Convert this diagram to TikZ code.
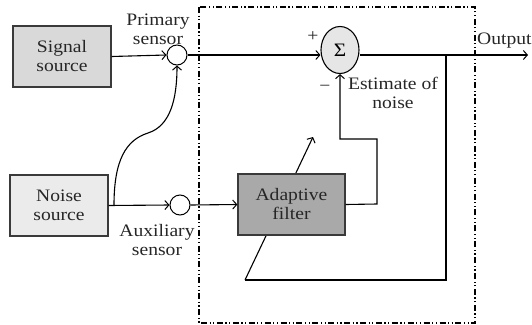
\documentclass[tikz,border=0pt]{standalone}
\usepackage{fontspec}
\setmainfont{Liberation Serif}[FakeStretch=1.12]
\usetikzlibrary{arrows.meta,shapes.geometric}
\definecolor{sigfill}{HTML}{D9D9D9}
\definecolor{noisefill}{HTML}{EBEBEB}
\definecolor{filtfill}{HTML}{A9A9A9}
\definecolor{sumfill}{HTML}{E6E6E6}
\definecolor{boxedge}{HTML}{3A3A3A}
\newcommand{\lbl}{\rmfamily\fontsize{17.5}{19}\selectfont}
\tikzset{
  txt/.style={font=\lbl, align=center, inner sep=0pt, text=black!85},
  blockbox/.style={draw=boxedge, line width=1.3pt, minimum width=98pt, minimum height=61pt, txt},
  sensor/.style={draw, circle, line width=1pt, minimum size=20pt, inner sep=0pt, fill=white},
  conn/.style={line width=1.1pt},
  arr/.style={conn, -{Straight Barb[length=4pt,width=9pt,line width=1pt]}},
  frame/.style={line width=1.2pt, dash pattern=on 6pt off 2.5pt on 1.2pt off 2.5pt on 1.2pt off 2.5pt}
}
\begin{document}
\begin{tikzpicture}[x=1pt,y=-1pt]
\useasboundingbox (0,0) rectangle (532,324);
% frame
\draw[frame] (199,7) rectangle (475,323);
% coordinates
\coordinate (split) at (114,205);
\coordinate (fbtop) at (446,55);
\coordinate (fbcorner) at (245,280);
\coordinate (adapt) at (313,137);
\coordinate (outend) at (528,55);
\coordinate (fo1) at (377,204);
\coordinate (fo2) at (377,139);
% adaptive arrow (behind filter)
\draw[conn] (fbtop) |- (fbcorner);
\draw[arr] (fbcorner) -- (adapt);
% nodes
\node[blockbox, fill=sigfill] (sig) at (62,56.5) {Signal\\source};
\node[blockbox, fill=noisefill] (noise) at (59,205.5) {Noise\\source};
\node[blockbox, fill=filtfill, minimum width=107pt] (filt) at (291.5,204.5) {Adaptive\\filter};
\node[sensor] (psens) at (177,55) {};
\node[sensor] (asens) at (180,205) {};
\node[draw, ellipse, line width=1.1pt, fill=sumfill, minimum width=38pt, minimum height=47pt, inner sep=0pt, font=\rmfamily\fontsize{19}{19}\selectfont] (sum) at (340,50) {Σ};
% labels
\node[txt] (lprim) at (158,29) {Primary\\sensor};
\node[txt] (laux) at (157,240) {Auxiliary\\sensor};
\node[txt] (lplus) at (313,37) {+};
\node[txt] (lminus) at (325,88) {−};
\node[txt] (lest) at (393,93) {Estimate of\\noise};
\node[txt, anchor=west] (lout) at (477,41) {Output};
% connectors
\draw[arr] (sig.east) -- (psens.west);
\draw[arr] (noise.east) -- (asens.west);
\draw[arr] (asens.east) -- (filt.west);
\draw[arr] (split) .. controls (114,160) and (126,140) .. (148,133) .. controls (170,126) and (177,100) .. (psens.south);
\draw[arr] (psens.east) -- (sum.west |- psens.east);
\draw[arr] (sum.east |- psens.east) -- (outend);
\draw[arr] (filt.east) -- (fo1) -- (fo2) -| (sum.south);
\end{tikzpicture}
\end{document}
